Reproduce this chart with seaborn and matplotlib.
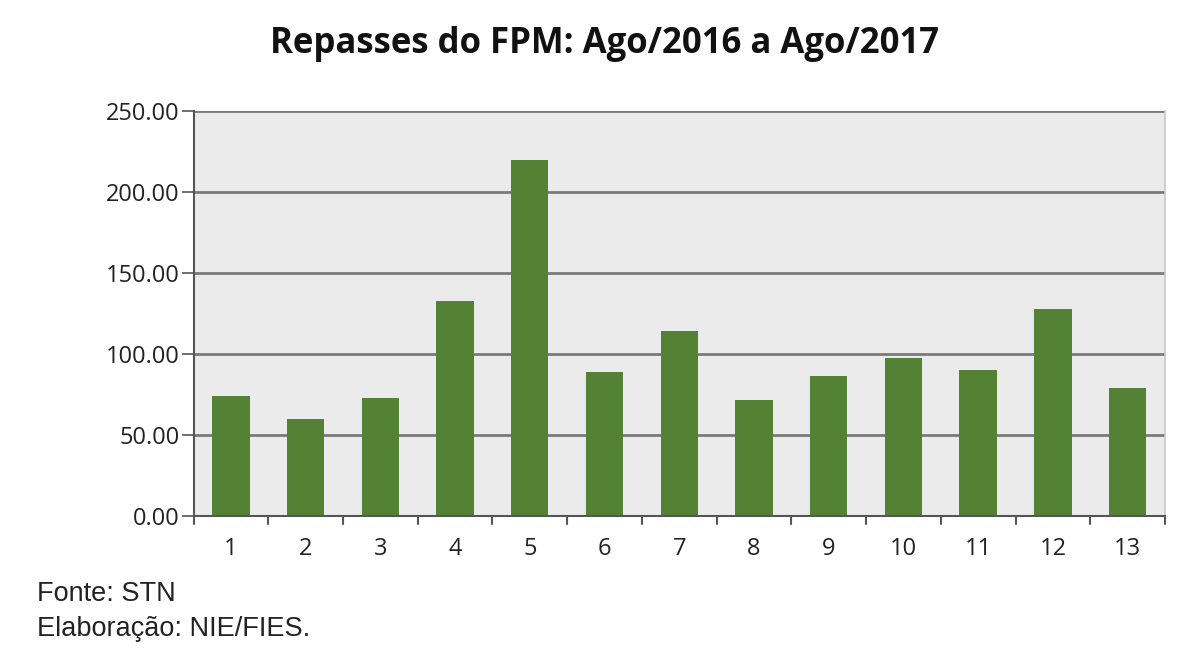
import matplotlib
matplotlib.use("Agg")
import matplotlib.pyplot as plt
import seaborn as sns
import pandas as pd

title = "Repasses do FPM: Ago/2016 a Ago/2017"
categories = ["1", "2", "3", "4", "5", "6", "7", "8", "9", "10", "11", "12", "13"]
values = [73.9, 59.9, 72.8, 132.7, 219.5, 88.9, 113.8, 71.4, 86.2, 97.5, 90.1, 127.8, 79.0]
yticks = [0, 50, 100, 150, 200, 250]
footer = ["Fonte: STN", "Elaboração: NIE/FIES."]

df = pd.DataFrame({"cat": categories, "val": values})

sns.set_theme(style="white")
plt.rcParams["font.family"] = ["Open Sans", "DejaVu Sans"]

fig = plt.figure(figsize=(12, 6.48), dpi=100)
ax = fig.add_axes([0.1613, 0.2042, 0.8095, 0.625])
ax.set_facecolor("#ebebeb")

sns.barplot(data=df, x="cat", y="val", color="#548235", saturation=1,
            width=0.5, linewidth=0, ax=ax, zorder=3)

ax.set_ylim(0, 250)
ax.set_xlim(-0.5, len(categories) - 0.5)
ax.set_yticks(yticks)
ax.set_yticklabels([f"{v:.2f}" for v in yticks], fontsize=17, color="#222222")
ax.set_xlabel("")
ax.set_ylabel("")
ax.tick_params(axis="x", length=0, pad=15, labelsize=17, labelcolor="#222222")
ax.tick_params(axis="y", length=9, width=1.2, color="#555555", pad=1, direction="out", left=True)
for y in yticks[1:]:
    ax.axhline(y, color="#7a7a7a", lw=2, zorder=1)

# category boundary ticks
for b in range(len(categories) + 1):
    ax.plot([b - 0.5, b - 0.5], [0, -0.0215], color="#555555", lw=1.5,
            transform=ax.get_xaxis_transform(), clip_on=False)

ax.spines["top"].set_visible(False)
ax.spines["right"].set_color("#c8c8c8")
ax.spines["right"].set_linewidth(1.2)
ax.spines["left"].set_color("#555555")
ax.spines["left"].set_linewidth(1.5)
ax.spines["bottom"].set_color("#555555")
ax.spines["bottom"].set_linewidth(1.5)
ax.spines["bottom"].set_zorder(5)

fig.text(0.504, 0.932, title, ha="center", va="center", fontsize=25,
         fontweight="bold", color="#111111")
fig.text(0.031, 0.083, footer[0], ha="left", va="center", fontsize=19.5,
         family="Liberation Sans", color="#222222")
fig.text(0.031, 0.030, footer[1], ha="left", va="center", fontsize=19.5,
         family="Liberation Sans", color="#222222")

fig.savefig("out.png", dpi=100)
